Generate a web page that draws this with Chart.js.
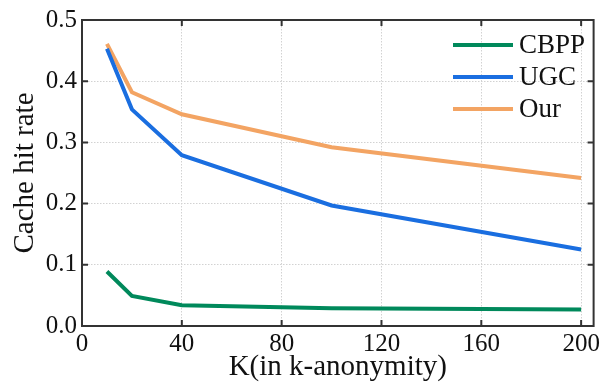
<!DOCTYPE html>
<html>
<head>
<meta charset="utf-8">
<script src="https://cdn.jsdelivr.net/npm/chart.js@4.4.1/dist/chart.umd.min.js"></script>
<style>
  html, body { margin: 0; padding: 0; background: #fff; }
  #wrap { width: 603px; height: 389px; }
</style>
</head>
<body>
<div id="wrap"><canvas id="c" width="603" height="389"></canvas></div>
<script>
// data
const kValues = [10, 20, 40, 100, 200];
const cbpp = [0.089, 0.049, 0.034, 0.029, 0.027];
const ugc = [0.453, 0.354, 0.279, 0.197, 0.125];
const our = [0.461, 0.382, 0.346, 0.292, 0.242];
const xTicks = [0, 40, 80, 120, 160, 200];
const yTicks = [0, 0.1, 0.2, 0.3, 0.4, 0.5];

const serif = "'Liberation Serif', 'DejaVu Serif', serif";

function pts(vals) {
  return kValues.map((k, i) => ({ x: k, y: vals[i] }));
}

// inward ticks on all 4 sides + frame
const frameTicks = {
  id: 'frameTicks',
  afterDraw(chart) {
    const { ctx, chartArea: a, scales } = chart;
    ctx.save();
    ctx.strokeStyle = '#333';
    ctx.lineWidth = 2;
    ctx.strokeRect(a.left, a.top, a.right - a.left, a.bottom - a.top);
    const len = 6;
    ctx.beginPath();
    xTicks.forEach(v => {
      const px = scales.x.getPixelForValue(v);
      ctx.moveTo(px, a.bottom); ctx.lineTo(px, a.bottom - len);
      ctx.moveTo(px, a.top); ctx.lineTo(px, a.top + len);
    });
    yTicks.forEach(v => {
      const py = scales.y.getPixelForValue(v);
      ctx.moveTo(a.left, py); ctx.lineTo(a.left + len, py);
      ctx.moveTo(a.right, py); ctx.lineTo(a.right - len, py);
    });
    ctx.stroke();
    ctx.restore();
  }
};

// legend drawn inside the plot, top right
const innerLegend = {
  id: 'innerLegend',
  afterDraw(chart) {
    const { ctx } = chart;
    ctx.save();
    ctx.font = '27px ' + serif;
    ctx.textBaseline = 'middle';
    chart.data.datasets.forEach((ds, i) => {
      const y = 45 + i * 32;
      ctx.strokeStyle = ds.borderColor;
      ctx.lineWidth = 4;
      ctx.beginPath();
      ctx.moveTo(453, y); ctx.lineTo(513, y);
      ctx.stroke();
      ctx.fillStyle = '#111';
      ctx.fillText(ds.label, 519, y + 1);
    });
    ctx.restore();
  }
};

new Chart(document.getElementById('c'), {
  type: 'line',
  data: {
    datasets: [
      { label: 'CBPP', data: pts(cbpp), borderColor: '#00895b' },
      { label: 'UGC', data: pts(ugc), borderColor: '#1a6ee0' },
      { label: 'Our', data: pts(our), borderColor: '#f3a463' }
    ]
  },
  options: {
    responsive: false,
    animation: false,
    layout: { padding: { top: 14, right: 5, left: 0, bottom: 0 } },
    elements: {
      point: { radius: 0 },
      line: { borderWidth: 4, tension: 0, fill: false }
    },
    plugins: { legend: { display: false }, tooltip: { enabled: false } },
    scales: {
      x: {
        type: 'linear',
        min: 0,
        max: 205,
        afterBuildTicks: s => { s.ticks = xTicks.map(v => ({ value: v })); },
        afterFit: s => { s.height = 63; },
        grid: { color: '#d2d2d2', lineWidth: 1, drawTicks: false },
        border: { display: false, dash: [1.5, 1.5] },
        ticks: { color: '#111', font: { family: serif, size: 25 }, padding: 3, maxRotation: 0 },
        title: { display: true, text: 'K(in k-anonymity)', color: '#111', font: { family: serif, size: 29 }, padding: { top: -4 } }
      },
      y: {
        min: 0,
        max: 0.5,
        afterBuildTicks: s => { s.ticks = yTicks.map(v => ({ value: v })); },
        afterFit: s => { s.width = 82; },
        grid: { color: '#d2d2d2', lineWidth: 1, drawTicks: false },
        border: { display: false, dash: [1.5, 1.5] },
        ticks: { color: '#111', font: { family: serif, size: 25 }, padding: 5, callback: v => v.toFixed(1) },
        title: { display: true, text: 'Cache hit rate', color: '#111', font: { family: serif, size: 29 }, padding: { top: 8, bottom: 0 } }
      }
    }
  },
  plugins: [frameTicks, innerLegend]
});
</script>
</body>
</html>
